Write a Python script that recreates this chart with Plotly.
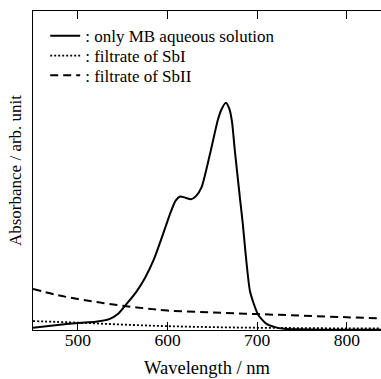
import plotly.graph_objects as go

# Wavelength (nm) and absorbance (arb. unit)
wl_mb = [450, 475, 500, 520, 535, 545, 555, 565, 575, 585, 595, 603, 609, 614, 620, 626,
         632, 638, 647, 656, 660, 665, 669, 672, 675, 681, 684, 687, 692, 701, 710, 720,
         730, 745, 770, 800, 840]
abs_mb = [0.006, 0.014, 0.021, 0.025, 0.033, 0.050, 0.083, 0.118, 0.163, 0.222, 0.300,
          0.365, 0.405, 0.418, 0.414, 0.409, 0.420, 0.447, 0.547, 0.657, 0.690, 0.712,
          0.692, 0.650, 0.563, 0.406, 0.330, 0.240, 0.120, 0.047, 0.019, 0.008, 0.003,
          0.001, 0.0, 0.0, 0.0]

wl_sb1 = [450, 500, 550, 600, 650, 700, 750, 800, 840]
abs_sb1 = [0.027, 0.022, 0.016, 0.011, 0.008, 0.006, 0.005, 0.004, 0.004]

wl_sb2 = [450, 475, 500, 525, 550, 575, 600, 650, 700, 750, 800, 840]
abs_sb2 = [0.128, 0.110, 0.096, 0.085, 0.075, 0.067, 0.060, 0.054, 0.049, 0.044, 0.039, 0.035]

names = [": only MB aqueous solution", ": filtrate of SbI", ": filtrate of SbII"]
x_ticks = [500, 600, 700, 800]

FONT = "Liberation Serif"
LEG_FONT = dict(family=FONT, size=17, color="black")

fig = go.Figure()
fig.add_trace(go.Scatter(x=wl_mb, y=abs_mb, mode="lines", name=names[0], legend="legend",
                         line=dict(color="black", width=2, shape="spline", smoothing=0.6)))
fig.add_trace(go.Scatter(x=wl_sb1, y=abs_sb1, mode="lines", name=names[1], legend="legend2",
                         line=dict(color="black", width=1.8, dash="2px,2px", shape="spline")))
fig.add_trace(go.Scatter(x=wl_sb2, y=abs_sb2, mode="lines", name=names[2], legend="legend3",
                         line=dict(color="black", width=2, dash="8px,5px", shape="spline")))

def leg(yc):
    return dict(x=0.035, y=yc, xanchor="left", yanchor="middle",
                bgcolor="rgba(0,0,0,0)", borderwidth=0, font=LEG_FONT, itemwidth=30)

fig.update_layout(
    width=381, height=379,
    margin=dict(l=33, r=0, t=11, b=49),
    paper_bgcolor="white", plot_bgcolor="white",
    font=dict(family=FONT, size=17, color="black"),
    showlegend=True,
    legend=leg(0.921),
    legend2=leg(0.859),
    legend3=leg(0.797),
    xaxis=dict(range=[450, 838], tickvals=x_ticks, ticks="inside", ticklen=8,
               tickwidth=1, tickcolor="black", showline=True, linecolor="black",
               linewidth=1, mirror="ticks", showgrid=False, zeroline=False,
               ticklabelstandoff=-6,
               title=dict(text="Wavelength / nm", standoff=12,
                          font=dict(family=FONT, size=18.5, color="black")),
               tickfont=dict(family=FONT, size=17.5, color="black")),
    yaxis=dict(range=[-0.001, 1.0], showticklabels=False, ticks="",
               showline=True, linecolor="black", linewidth=1, mirror=False,
               showgrid=False, zeroline=False,
               title=dict(text="Absorbance / arb. unit", standoff=6,
                          font=dict(family=FONT, size=17, color="black"))),
)

fig.write_html("out.html")
